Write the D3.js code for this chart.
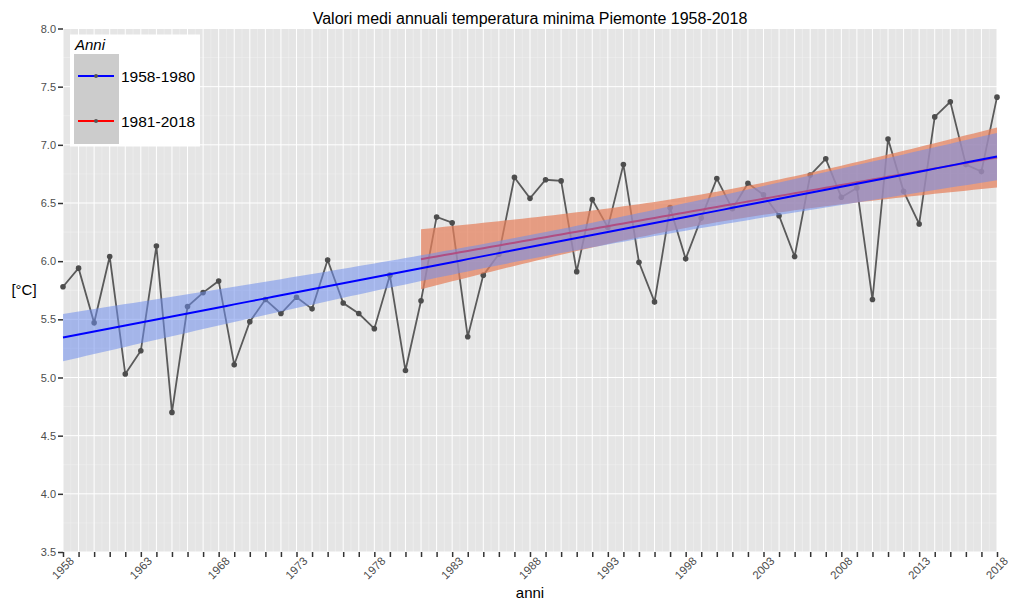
<!DOCTYPE html>
<html>
<head>
<meta charset="utf-8">
<script src="https://cdn.jsdelivr.net/npm/d3@7"></script>
<style>
  html, body { margin: 0; padding: 0; background: #ffffff; }
  svg { display: block; font-family: "Liberation Sans", Arial, Helvetica, sans-serif; }
</style>
</head>
<body>
<svg id="chart" width="1009" height="602"></svg>
<script>
// ---- Data ----
const years = d3.range(1958, 2019);
const tmin = [
  5.78, 5.94, 5.47, 6.04, 5.03, 5.23, 6.13, 4.70, 5.61, 5.73,
  5.83, 5.11, 5.48, 5.67, 5.55, 5.69, 5.59, 6.01, 5.64, 5.55,
  5.42, 5.88, 5.06, 5.66, 6.38, 6.33, 5.35, 5.88, 6.06, 6.72,
  6.54, 6.70, 6.69, 5.91, 6.53, 6.29, 6.83, 5.99, 5.65, 6.46,
  6.02, 6.37, 6.71, 6.45, 6.67, 6.57, 6.39, 6.04, 6.74, 6.88,
  6.55, 6.63, 5.67, 7.05, 6.60, 6.32, 7.24, 7.37, 6.83, 6.77,
  7.41
];
const seriesNames = ["1958-1980", "1981-2018"];
const fitRanges = [[1958, 2018], [1981, 2018]];
const yTicks = [3.5, 4.0, 4.5, 5.0, 5.5, 6.0, 6.5, 7.0, 7.5, 8.0];
const xLabelYears = d3.range(1958, 2019, 5);
const titleText = "Valori medi annuali temperatura minima Piemonte 1958-2018";
const xTitle = "anni";
const yTitle = "[°C]";
const legendTitle = "Anni";

// ---- Layout ----
const W = 1009, H = 602;
const margin = { left: 63, right: 12, top: 28.5, bottom: 50 };
const svg = d3.select("#chart");
const x = d3.scaleLinear().domain([1958, 2018]).range([margin.left, W - margin.right]);
const y = d3.scaleLinear().domain([3.5, 8.0]).range([H - margin.bottom, margin.top]);

// panel
svg.append("rect")
  .attr("x", x(1958)).attr("y", y(8))
  .attr("width", x(2018) - x(1958)).attr("height", y(3.5) - y(8))
  .attr("fill", "#e5e5e5");

// minor gridlines
const gMinor = svg.append("g");
d3.range(1958.5, 2018, 1).forEach(v => {
  gMinor.append("line").attr("x1", x(v)).attr("x2", x(v))
    .attr("y1", y(8)).attr("y2", y(3.5)).attr("stroke", "#f2f2f2").attr("stroke-width", 0.5);
});
d3.range(3.75, 8, 0.5).forEach(v => {
  gMinor.append("line").attr("y1", y(v)).attr("y2", y(v))
    .attr("x1", x(1958)).attr("x2", x(2018)).attr("stroke", "#f2f2f2").attr("stroke-width", 0.5);
});
// major gridlines
const gMajor = svg.append("g");
years.forEach(v => {
  gMajor.append("line").attr("x1", x(v)).attr("x2", x(v))
    .attr("y1", y(8)).attr("y2", y(3.5)).attr("stroke", "#ffffff").attr("stroke-width", 1);
});
yTicks.forEach(v => {
  gMajor.append("line").attr("y1", y(v)).attr("y2", y(v))
    .attr("x1", x(1958)).attr("x2", x(2018)).attr("stroke", "#ffffff").attr("stroke-width", 1);
});

// ---- data line and points ----
const pts = years.map((yr, i) => ({ yr, v: tmin[i] }));
svg.append("path").datum(pts)
  .attr("fill", "none").attr("stroke", "#5a5a5a").attr("stroke-width", 1.8)
  .attr("d", d3.line().x(d => x(d.yr)).y(d => y(d.v)));
svg.append("g").selectAll("circle").data(pts).join("circle")
  .attr("cx", d => x(d.yr)).attr("cy", d => y(d.v)).attr("r", 2.8)
  .attr("fill", "#4d4d4d");

// ---- linear fits with 95% confidence band ----
function tq(df) {
  const z = 1.959964;
  return z + (z ** 3 + z) / (4 * df) + (5 * z ** 5 + 16 * z ** 3 + 3 * z) / (96 * df * df);
}
function fit(range) {
  const d = pts.filter(p => p.yr >= range[0] && p.yr <= range[1]);
  const n = d.length;
  const mx = d3.mean(d, p => p.yr), my = d3.mean(d, p => p.v);
  const sxx = d3.sum(d, p => (p.yr - mx) ** 2);
  const sxy = d3.sum(d, p => (p.yr - mx) * (p.v - my));
  const b = sxy / sxx, a = my - b * mx;
  const s = Math.sqrt(d3.sum(d, p => (p.v - (a + b * p.yr)) ** 2) / (n - 2));
  const t = tq(n - 2);
  return d3.range(range[0], range[1] + 0.001, 0.5).map(xx => {
    const f = a + b * xx;
    const se = s * Math.sqrt(1 / n + (xx - mx) ** 2 / sxx);
    return { xx, f, lo: f - t * se, hi: f + t * se };
  });
}
const fitBlue = fit(fitRanges[0]);
const fitRed = fit(fitRanges[1]);
const area = d3.area().x(d => x(d.xx)).y0(d => y(d.lo)).y1(d => y(d.hi));
const fline = d3.line().x(d => x(d.xx)).y(d => y(d.f));

svg.append("path").datum(fitRed).attr("d", area)
  .attr("fill", "rgb(228,128,92)").attr("fill-opacity", 0.72);
svg.append("path").datum(fitRed).attr("d", fline)
  .attr("fill", "none").attr("stroke", "#ff0000").attr("stroke-width", 2);
svg.append("path").datum(fitBlue).attr("d", area)
  .attr("fill", "rgb(112,142,236)").attr("fill-opacity", 0.55);
svg.append("path").datum(fitBlue).attr("d", fline)
  .attr("fill", "none").attr("stroke", "#0000ff").attr("stroke-width", 2);

// ---- axes ----
const axisColor = "#333333", labelColor = "#4d4d4d";
const gy = svg.append("g").attr("transform", `translate(${x(1958)},0)`)
  .call(d3.axisLeft(y).tickValues(yTicks).tickFormat(d3.format(".1f")).tickSize(5).tickPadding(2));
gy.select(".domain").remove();
gy.selectAll(".tick line").attr("stroke", axisColor).attr("stroke-width", 1.5);
gy.selectAll(".tick text").attr("fill", labelColor).attr("font-size", 11)
  .attr("font-family", "Liberation Sans, Arial, sans-serif");

const gx = svg.append("g").attr("transform", `translate(0,${y(3.5)})`)
  .call(d3.axisBottom(x).tickValues(years).tickFormat("").tickSize(5));
gx.select(".domain").remove();
gx.selectAll(".tick line").attr("stroke", axisColor).attr("stroke-width", 1.5);

svg.append("g").selectAll("text").data(xLabelYears).join("text")
  .attr("transform", d => `translate(${x(d)},${y(3.5) + 16}) rotate(-45)`)
  .attr("text-anchor", "middle").attr("dominant-baseline", "central")
  .attr("font-size", 11.5).attr("fill", labelColor)
  .text(d => d);

// ---- titles ----
svg.append("text").attr("x", (x(1958) + x(2018)) / 2).attr("y", 24)
  .attr("text-anchor", "middle").attr("font-size", 16).attr("fill", "#000")
  .text(titleText);
svg.append("text").attr("x", (x(1958) + x(2018)) / 2).attr("y", 598)
  .attr("text-anchor", "middle").attr("font-size", 15).attr("fill", "#000")
  .text(xTitle);
svg.append("text").attr("x", 24).attr("y", 295)
  .attr("text-anchor", "middle").attr("font-size", 15).attr("fill", "#000")
  .text(yTitle);

// ---- legend ----
const lg = svg.append("g");
lg.append("rect").attr("x", 70).attr("y", 34.5).attr("width", 130).attr("height", 112).attr("fill", "#ffffff");
lg.append("text").attr("x", 75).attr("y", 50).attr("font-size", 15).attr("font-style", "italic")
  .attr("fill", "#000").text(legendTitle);
const keyColors = ["#0000ff", "#ff0000"];
seriesNames.forEach((name, i) => {
  const ky = 54 + i * 45;
  lg.append("rect").attr("x", 74).attr("y", ky).attr("width", 45).attr("height", 45).attr("fill", "#cccccc");
  lg.append("line").attr("x1", 78).attr("x2", 114).attr("y1", ky + 22).attr("y2", ky + 22)
    .attr("stroke", keyColors[i]).attr("stroke-width", 2);
  lg.append("circle").attr("cx", 96).attr("cy", ky + 22).attr("r", 2).attr("fill", "#555");
  lg.append("text").attr("x", 121).attr("y", ky + 27.5).attr("font-size", 15.5).attr("fill", "#000").text(name);
});
</script>
</body>
</html>
